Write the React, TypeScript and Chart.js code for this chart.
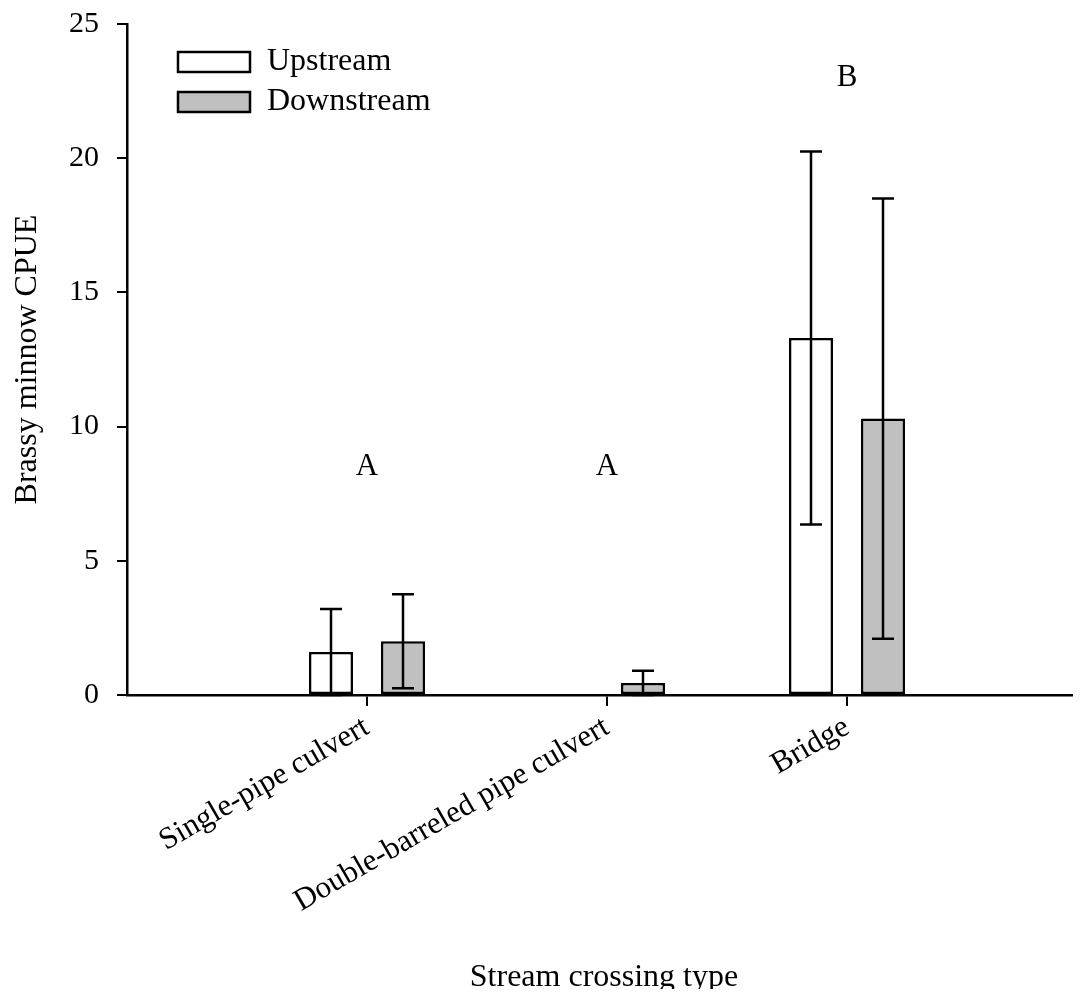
import React, { useEffect, useRef } from 'react';
import { Chart, registerables } from 'chart.js';

Chart.register(...registerables);

const categories = ['Single-pipe culvert', 'Double-barreled pipe culvert', 'Bridge'];
const categoryPositions = [1, 2, 3];
const seriesNames = ['Upstream', 'Downstream'];
const upstreamMeans = [1.6, 0, 13.3];
const upstreamErrors = [1.6, 0, 6.95];
const downstreamMeans = [2.0, 0.45, 10.3];
const downstreamErrors = [1.75, 0.45, 8.2];
const groupLetters = ['A', 'A', 'B'];
const letterHeights = [8.5, 8.5, 23.0];
const yTickValues = [0, 5, 10, 15, 20, 25];

const FONT = '"Liberation Serif", "Times New Roman", serif';

const errorBarPlugin = {
  id: 'errorBars',
  afterDatasetsDraw(chart: any) {
    const ctx = chart.ctx;
    const yScale = chart.scales.y;
    const errs = [upstreamErrors, downstreamErrors];
    const means = [upstreamMeans, downstreamMeans];
    ctx.save();
    ctx.strokeStyle = '#000';
    ctx.lineWidth = 2.5;
    for (let d = 0; d < 2; d++) {
      const meta = chart.getDatasetMeta(d);
      meta.data.forEach((bar: any, i: number) => {
        const e = errs[d][i];
        if (!e) return;
        const m = means[d][i];
        const x = bar.x;
        const yTop = yScale.getPixelForValue(m + e);
        const yBot = yScale.getPixelForValue(Math.max(0, m - e));
        ctx.beginPath();
        ctx.moveTo(x, yTop);
        ctx.lineTo(x, yBot);
        ctx.moveTo(x - 11, yTop);
        ctx.lineTo(x + 11, yTop);
        ctx.moveTo(x - 11, yBot);
        ctx.lineTo(x + 11, yBot);
        ctx.stroke();
      });
    }
    ctx.restore();
  },
};

const lettersPlugin = {
  id: 'letters',
  afterDraw(chart: any) {
    const ctx = chart.ctx;
    const xs = chart.scales.x;
    const ys = chart.scales.y;
    ctx.save();
    ctx.fillStyle = '#000';
    ctx.font = `31px ${FONT}`;
    ctx.textAlign = 'center';
    ctx.textBaseline = 'middle';
    groupLetters.forEach((l, i) => {
      ctx.fillText(l, xs.getPixelForValue(categoryPositions[i]), ys.getPixelForValue(letterHeights[i]));
    });
    ctx.restore();
  },
};

const legendPlugin = {
  id: 'customLegend',
  afterDraw(chart: any) {
    const ctx = chart.ctx;
    const { left, top } = chart.chartArea;
    const fills = ['#ffffff', '#c0c0c0'];
    ctx.save();
    ctx.font = `32px ${FONT}`;
    seriesNames.forEach((name, i) => {
      const cy = top + 38 + i * 40;
      ctx.fillStyle = fills[i];
      ctx.fillRect(left + 51, cy - 10, 72, 20);
      ctx.lineWidth = 2.5;
      ctx.strokeStyle = '#000';
      ctx.strokeRect(left + 51, cy - 10, 72, 20);
      ctx.fillStyle = '#000';
      ctx.textAlign = 'left';
      ctx.textBaseline = 'middle';
      ctx.fillText(name, left + 140, cy);
    });
    ctx.restore();
  },
};

export default function App() {
  const ref = useRef<HTMLCanvasElement | null>(null);
  useEffect(() => {
    if (!ref.current) return;
    const chart = new Chart(ref.current, {
      type: 'bar',
      data: {
        datasets: [
          {
            label: seriesNames[0],
            data: categoryPositions.map((x, i) => ({ x, y: upstreamMeans[i] })),
            backgroundColor: '#ffffff',
            borderColor: '#000000',
            borderWidth: 2.5,
            borderSkipped: false,
          },
          {
            label: seriesNames[1],
            data: categoryPositions.map((x, i) => ({ x, y: downstreamMeans[i] })),
            backgroundColor: '#c0c0c0',
            borderColor: '#000000',
            borderWidth: 2.5,
            borderSkipped: false,
          },
        ] as any,
      },
      options: {
        animation: false,
        responsive: false,
        maintainAspectRatio: false,
        categoryPercentage: 0.6,
        barPercentage: 0.611,
        layout: { padding: { top: 24, left: 0, right: 0, bottom: 0 } },
        plugins: {
          legend: { display: false },
          tooltip: { enabled: false },
        },
        scales: {
          x: {
            type: 'linear',
            min: 0,
            max: 3.975,
            offset: false,
            afterBuildTicks: (axis: any) => {
              axis.ticks = categoryPositions.map((v) => ({ value: v }));
            },
            afterFit: (scale: any) => {
              scale.height = 302;
              scale.paddingLeft = 0;
              scale.paddingRight = 0;
              scale.paddingTop = 0;
              scale.paddingBottom = 0;
            },
            ticks: {
              autoSkip: false,
              minRotation: 30,
              maxRotation: 30,
              padding: 3,
              color: '#000',
              font: { family: FONT, size: 31 },
              callback: (v: any) => categories[categoryPositions.indexOf(v)] ?? '',
            },
            grid: {
              display: true,
              offset: false,
              drawOnChartArea: false,
              drawTicks: true,
              tickLength: 11,
              color: '#000',
              lineWidth: 2,
            },
            border: { display: true, color: '#000', width: 2.5 },
            title: {
              display: true,
              text: 'Stream crossing type',
              color: '#000',
              font: { family: FONT, size: 32, lineHeight: 1.2 },
              padding: { top: 1, bottom: 0 },
            },
          },
          y: {
            type: 'linear',
            min: 0,
            max: 25,
            afterBuildTicks: (axis: any) => {
              axis.ticks = yTickValues.map((v) => ({ value: v }));
            },
            afterFit: (scale: any) => {
              scale.width = 127;
              scale.paddingLeft = 0;
              scale.paddingRight = 0;
              scale.paddingTop = 0;
              scale.paddingBottom = 0;
            },
            ticks: {
              padding: 18,
              color: '#000',
              font: { family: FONT, size: 30 },
            },
            grid: {
              display: true,
              drawOnChartArea: false,
              drawTicks: true,
              tickLength: 10,
              color: '#000',
              lineWidth: 2,
            },
            border: { display: true, color: '#000', width: 2.5 },
            title: {
              display: true,
              text: 'Brassy minnow CPUE',
              color: '#000',
              font: { family: FONT, size: 32, lineHeight: 1.2 },
              padding: { top: 8, bottom: 0 },
            },
          },
        },
      } as any,
      plugins: [errorBarPlugin, lettersPlugin, legendPlugin],
    });
    return () => chart.destroy();
  }, []);
  return (
    <div style={{ margin: -8, width: 1081, height: 997 }}>
      <canvas ref={ref} width={1081} height={997} style={{ display: 'block', width: 1081, height: 997 }} />
    </div>
  );
}
